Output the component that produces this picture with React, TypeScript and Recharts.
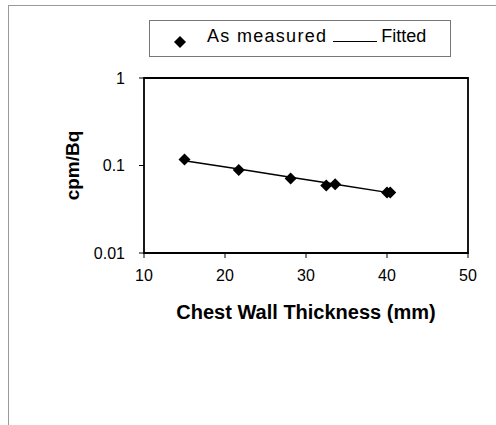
import {
  ComposedChart,
  Scatter,
  Line,
  XAxis,
  YAxis,
  ReferenceArea,
  Label,
} from "recharts";

const thickness = [15, 21.7, 28.1, 32.5, 33.6, 40.0, 40.4];
const measured = [0.117, 0.089, 0.071, 0.059, 0.061, 0.049, 0.049];
const fitted = [0.113, 0.091, 0.0734, 0.0634, 0.0611, 0.0493, 0.0487];
const xTicks = [10, 20, 30, 40, 50];
const yTicks = [0.01, 0.1, 1];

const data = thickness.map((x, i) => ({
  x,
  measured: measured[i],
  fitted: fitted[i],
}));

const FONT = '"Liberation Sans", Arial, Helvetica, sans-serif';

const Diamond = (props: any) => {
  const { cx, cy } = props;
  const r = 6;
  return (
    <path
      d={`M${cx},${cy - r}L${cx + r},${cy}L${cx},${cy + r}L${cx - r},${cy}Z`}
      fill="#000"
    />
  );
};

const LegendBox = () => (
  <div
    style={{
      position: "absolute",
      left: 149,
      top: 20,
      width: 302,
      height: 37,
      border: "1px solid #777",
      display: "flex",
      alignItems: "center",
      fontFamily: FONT,
      fontSize: 18,
      color: "#000",
      boxSizing: "border-box",
    }}
  >
    <svg width={14} height={14} style={{ marginLeft: 23, marginTop: 6 }}>
      <path d="M7,1L13,7L7,13L1,7Z" fill="#000" />
    </svg>
    <span style={{ marginLeft: 20, letterSpacing: 1.3, marginTop: -4 }}>
      As measured
    </span>
    <span
      style={{
        display: "inline-block",
        width: 44,
        borderBottom: "1.5px solid #000",
        marginLeft: 6,
        marginTop: 6,
      }}
    />
    <span style={{ marginLeft: 4, marginTop: -4 }}>Fitted</span>
  </div>
);

export default function App() {
  return (
    <div
      style={{
        position: "absolute",
        left: 0,
        top: 0,
        width: 496,
        height: 425,
        background: "#fff",
      }}
    >
      <div
        style={{
          position: "absolute",
          left: 8,
          top: 5,
          width: 488,
          height: 420,
          borderLeft: "1px solid #999",
          borderTop: "1px solid #999",
        }}
      />
      <div style={{ position: "absolute", left: 0, top: 0 }}>
        <ComposedChart
          width={496}
          height={425}
          data={data}
          margin={{ top: 78, right: 28, bottom: 102, left: 54 }}
        >
          <XAxis
            dataKey="x"
            type="number"
            domain={[10, 50]}
            ticks={xTicks}
            allowDataOverflow
            height={70}
            axisLine={false}
            tickSize={5}
            tickMargin={12}
            tick={{ fontSize: 16, fill: "#000", fontFamily: FONT }}
            stroke="#000"
          >
            <Label
              value="Chest Wall Thickness (mm)"
              position="insideBottom"
              offset={4}
              style={{
                fontSize: 20,
                fontWeight: "bold",
                fill: "#000",
                fontFamily: FONT,
              }}
            />
          </XAxis>
          <YAxis
            scale="log"
            domain={[0.01, 1]}
            ticks={yTicks}
            allowDataOverflow
            width={90}
            axisLine={false}
            tickSize={5}
            tickMargin={14}
            tickFormatter={(v) => String(v)}
            tick={{ fontSize: 16, fill: "#000", fontFamily: FONT }}
            stroke="#000"
          >
            <Label
              value="cpm/Bq"
              angle={-90}
              position="insideLeft"
              offset={18}
              style={{
                fontSize: 19,
                fontWeight: "bold",
                fill: "#000",
                fontFamily: FONT,
                textAnchor: "middle",
              }}
            />
          </YAxis>
          <ReferenceArea
            x1={10}
            x2={50}
            y1={0.01}
            y2={1}
            fill="none"
            stroke="#000"
            strokeWidth={1.8}
            ifOverflow="visible"
          />
          <Line
            dataKey="fitted"
            stroke="#000"
            strokeWidth={1.5}
            dot={false}
            isAnimationActive={false}
            legendType="none"
          />
          <Scatter
            dataKey="measured"
            shape={<Diamond />}
            isAnimationActive={false}
          />
        </ComposedChart>
      </div>
      <LegendBox />
    </div>
  );
}
